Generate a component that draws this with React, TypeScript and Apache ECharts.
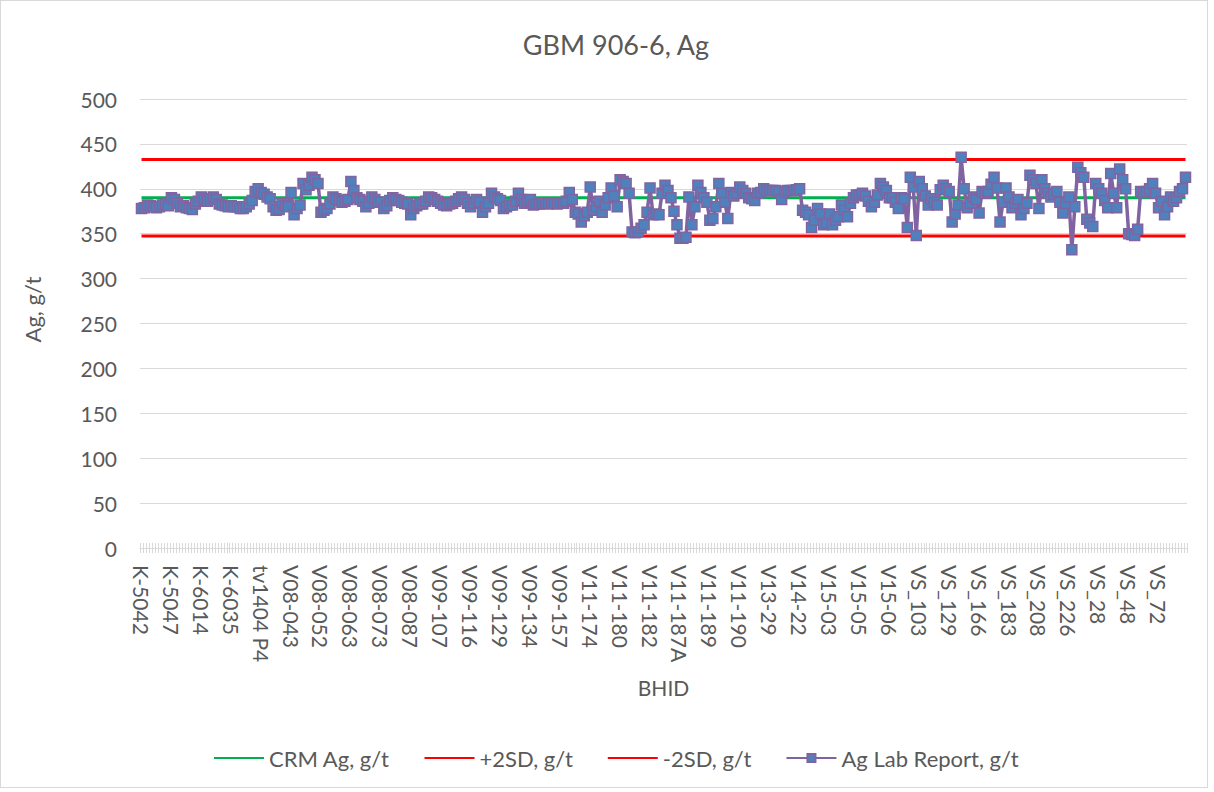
import React, { useEffect, useRef } from "react";
import * as echarts from "echarts";

const TITLE = "GBM 906-6, Ag";
const Y_NAME = "Ag, g/t";
const X_NAME = "BHID";

// Every 10th sample ID (the ones printed on the axis)
const shownLabels = [
  "K-5042", "K-5047", "K-6014", "K-6035", "tv1404 P4", "V08-043", "V08-052",
  "V08-063", "V08-073", "V08-087", "V09-107", "V09-116", "V09-129", "V09-134",
  "V09-157", "V11-174", "V11-180", "V11-182", "V11-187A", "V11-189", "V11-190",
  "V13-29", "V14-22", "V15-03", "V15-05", "V15-06", "VS_103", "VS_129",
  "VS_166", "VS_183", "VS_208", "VS_226", "VS_28", "VS_48", "VS_72",
];

const crmValue = 390;
const plus2SD = 432.6;
const minus2SD = 347.4;

// Ag lab results, in groups of 10 samples (group starts at each shown label)
const agValues = [
  378, 379, 382, 381, 380, 379, 380, 382, 383, 381,
  390, 388, 384, 380, 381, 379, 378, 377, 383, 386,
  391, 388, 386, 389, 391, 388, 383, 382, 381, 380,
  381, 380, 380, 378, 378, 380, 383, 387, 397, 400,
  396, 394, 391, 389, 380, 376, 377, 384, 381, 380,
  396, 371, 378, 382, 406, 399, 404, 413, 410, 406,
  374, 376, 378, 383, 391, 389, 387, 385, 386, 388,
  408, 398, 390, 388, 386, 380, 384, 391, 388, 385,
  385, 378, 381, 387, 390, 388, 387, 385, 384, 383,
  371, 378, 381, 383, 383, 386, 391, 390, 388, 386,
  384, 382, 381, 383, 384, 386, 389, 391, 388, 384,
  380, 384, 388, 385, 374, 380, 384, 395, 391, 389,
  387, 378, 380, 382, 382, 386, 395, 388, 384, 386,
  388, 382, 383, 383, 384, 384, 383, 384, 384, 383,
  384, 384, 386, 396, 388, 374, 372, 363, 370, 374,
  402, 376, 380, 386, 374, 382, 390, 401, 392, 380,
  410, 408, 406, 395, 352, 351, 352, 356, 360, 374,
  401, 371, 372, 371, 395, 404, 398, 390, 375, 360,
  345, 345, 346, 391, 360, 380, 404, 396, 390, 385,
  365, 367, 380, 406, 395, 385, 367, 396, 392, 395,
  402, 398, 395, 390, 389, 387, 395, 396, 400, 398,
  398, 398, 398, 397, 388, 396, 398, 398, 398, 399,
  400, 376, 374, 371, 357, 365, 378, 372, 360, 362,
  372, 360, 365, 369, 382, 376, 369, 384, 390, 393,
  393, 395, 392, 386, 380, 385, 393, 406, 402, 398,
  390, 390, 385, 378, 390, 389, 357, 413, 402, 348,
  408, 400, 392, 382, 389, 385, 382, 399, 404, 400,
  397, 363, 372, 382, 435, 400, 379, 384, 391, 388,
  373, 397, 395, 397, 405, 413, 401, 363, 385, 401,
  391, 379, 384, 388, 371, 378, 384, 415, 410, 406,
  378, 410, 400, 395, 391, 394, 397, 385, 373, 384,
  391, 332, 380, 424, 418, 413, 366, 362, 358, 406,
  400, 395, 387, 379, 417, 395, 379, 422, 410, 400,
  350, 349, 348, 355, 397, 396, 397, 400, 406, 395,
  379, 386, 371, 380, 391, 386, 390, 397, 400, 413,
];

// Sample IDs: the printed ID starts each group; unprinted IDs get a unique placeholder
const categories: string[] = agValues.map((_, i) => {
  const g = Math.floor(i / 10);
  const k = i % 10;
  return k === 0 ? shownLabels[g] : `${shownLabels[g]} #${k + 1}`;
});

const FONT = "Lato, 'Open Sans', sans-serif";
const TXT = "#595959";

export default function App() {
  const ref = useRef<HTMLDivElement>(null);
  useEffect(() => {
    document.body.style.margin = "0";
    const chart = echarts.init(ref.current!, null, { renderer: "svg" });
    const hideSym = { opacity: 0 };
    chart.setOption({
      animation: false,
      backgroundColor: "#ffffff",
      textStyle: { fontFamily: FONT, color: TXT },
      title: {
        text: TITLE,
        left: 610,
        top: 25,
        textAlign: "center",
        textStyle: { fontFamily: FONT, fontSize: 27, fontWeight: "normal", color: TXT },
      },
      grid: { left: 139, right: 20, top: 98, bottom: 239, containLabel: false },
      legend: {
        top: 741,
        left: 207,
        itemWidth: 50,
        itemHeight: 10,
        itemGap: 34,
        textStyle: { fontFamily: FONT, fontSize: 22, color: TXT },
        data: [
          { name: "CRM Ag, g/t", itemStyle: hideSym },
          { name: "+2SD, g/t", itemStyle: hideSym },
          { name: "-2SD, g/t", itemStyle: hideSym },
          { name: "Ag Lab Report, g/t" },
        ],
      },
      xAxis: [
        {
          type: "category",
          data: categories,
          boundaryGap: true,
          name: X_NAME,
          nameLocation: "middle",
          nameGap: 129,
          nameTextStyle: { fontFamily: FONT, fontSize: 21, color: TXT },
          axisLine: { lineStyle: { color: "#D9D9D9", width: 1 } },
          axisTick: { show: true, interval: 0, length: 5, lineStyle: { color: "#D9D9D9" } },
          axisLabel: {
            interval: 9,
            rotate: -90,
            margin: 17,
            fontFamily: FONT,
            fontSize: 21,
            color: TXT,
          },
          splitLine: { show: false },
        },
        {
          type: "category",
          data: categories,
          boundaryGap: true,
          position: "bottom",
          axisLine: { show: false },
          axisTick: { show: true, inside: true, interval: 0, length: 5, lineStyle: { color: "#D9D9D9" } },
          axisLabel: { show: false },
          splitLine: { show: false },
        },
      ],
      yAxis: {
        type: "value",
        min: 0,
        max: 500,
        interval: 50,
        name: Y_NAME,
        nameLocation: "middle",
        nameGap: 97,
        nameRotate: 90,
        nameTextStyle: { fontFamily: FONT, fontSize: 22, color: TXT, padding: [0, 0, 0, 28] },
        axisLine: { show: false },
        axisTick: { show: false },
        axisLabel: { fontFamily: FONT, fontSize: 21, color: TXT, margin: 23 },
        splitLine: { lineStyle: { color: "#D9D9D9", width: 1 } },
      },
      series: [
        {
          name: "CRM Ag, g/t",
          type: "line",
          data: categories.map(() => crmValue),
          showSymbol: false,
          symbol: "none",
          lineStyle: { color: "#00B050", width: 3 },
          itemStyle: { color: "#00B050" },
          z: 2,
        },
        {
          name: "+2SD, g/t",
          type: "line",
          data: categories.map(() => plus2SD),
          showSymbol: false,
          symbol: "none",
          lineStyle: { color: "#FF0000", width: 3 },
          itemStyle: { color: "#FF0000" },
          z: 2,
        },
        {
          name: "-2SD, g/t",
          type: "line",
          data: categories.map(() => minus2SD),
          showSymbol: false,
          symbol: "none",
          lineStyle: { color: "#FF0000", width: 3 },
          itemStyle: { color: "#FF0000" },
          z: 2,
        },
        {
          name: "Ag Lab Report, g/t",
          type: "line",
          data: agValues,
          symbol: "rect",
          symbolSize: 10,
          showAllSymbol: true,
          lineStyle: { color: "#8064A2", width: 3.5 },
          itemStyle: { color: "#4F81BD", borderColor: "#8064A2", borderWidth: 1.5 },
          z: 3,
        },
      ],
    });
    return () => chart.dispose();
  }, []);
  return (
    <div
      style={{
        position: "absolute",
        left: 0,
        top: 0,
        width: 1206,
        height: 786,
        border: "1px solid #D9D9D9",
        background: "#fff",
      }}
    >
      <div ref={ref} style={{ width: 1206, height: 786 }} />
    </div>
  );
}
